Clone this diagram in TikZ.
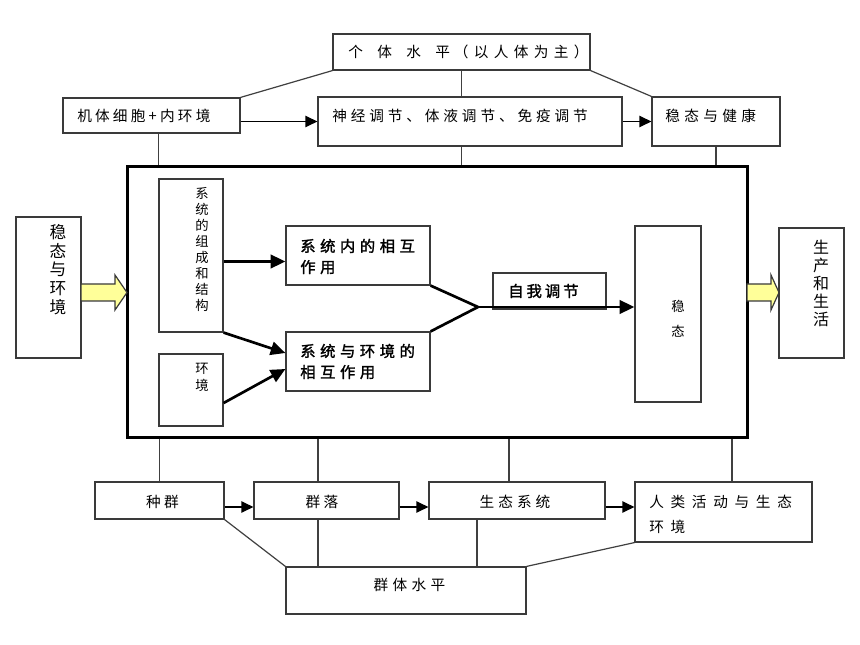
\documentclass[tikz,border=0pt]{standalone}
\usepackage{fontspec}
\newfontfamily\cjk{Noto Sans CJK SC}
\newfontfamily\cjkb[FakeBold=1.6]{Noto Sans CJK SC}
\usetikzlibrary{arrows.meta,calc,fit}
\newdimen\trk
\def\spc#1#2{\trk=#1\relax\spcB#2\relax}
\def\spcB#1{#1\spcC}
\def\spcC#1{\ifx#1\relax\else\kern\trk #1\expandafter\spcC\fi}
\definecolor{boxgray}{HTML}{3A3A3A}
\definecolor{linegray}{HTML}{404040}
\definecolor{yellowfill}{HTML}{FFFF99}
\begin{document}
\begin{tikzpicture}[x=0.75pt,y=-0.75pt,
  font=\cjk\fontsize{11pt}{13pt}\selectfont,
  box/.style={draw=boxgray,line width=0.9pt,inner sep=0pt},
  txt/.style={inner sep=0pt,anchor=west,align=left},
  ctxt/.style={inner sep=0pt,align=center},
  ln/.style={draw=linegray,line width=0.9pt},
  arr/.style={draw=black,line width=0.9pt,-{Triangle[length=9pt,width=8.5pt]}},
  tline/.style={draw=black,line width=2pt},
  tarr/.style={draw=black,line width=2pt,-{Triangle[length=11pt,width=10pt]}},
  yarrow/.style={draw=boxgray,line width=0.9pt,fill=yellowfill,line join=miter},
  boldtxt/.style={font=\cjkb\fontsize{11.5pt}{15.75pt}\selectfont},
  smallv/.style={font=\cjk\fontsize{10pt}{12pt}\selectfont},
  bigv/.style={font=\cjk\fontsize{12.5pt}{14pt}\selectfont}]
\fill[white] (0,0) rectangle (860,645);
\useasboundingbox (0,0) rectangle (860,645);

% top boxes
\node[box,fit={(333,34)(590,70)}] (ge) {};
\node[box,fit={(63,98)(240,133)}] (jt) {};
\node[box,fit={(318,97)(622,146)}] (sj) {};
\node[box,fit={(652,97)(780,146)}] (wj) {};
\node[txt] (tge) at (348,52) {\spc{10.75pt}{个体水平}\kern3pt\spc{4pt}{（以人体为主）}};
\node[txt] (tjt) at (77,116) {\spc{2.4pt}{机体细胞+内环境}};
\node[txt] (tsj) at (332,116) {\spc{2.9pt}{神经调节、体液调节、免疫调节}};
\node[txt] (twj) at (665,116) {\spc{3.25pt}{稳态与健康}};

% big box
\node[draw=black,line width=2.25pt,inner sep=0pt,fit={(127,167)(747,437)}] (big) {};

% side boxes
\node[box,fit={(16,217)(81,358)}] (wh) {};
\node[ctxt,bigv] (twh) at (58,269.5) {稳\\态\\与\\环\\境};
\node[box,fit={(779,228)(844,358)}] (sc) {};
\node[ctxt,font=\cjk\fontsize{12pt}{13.5pt}\selectfont] (tsc) at (821,283) {生\\产\\和\\生\\活};
\draw[yarrow] (81,284) -- (115,284) -- (115,275) -- (127,292.5) -- (115,310) -- (115,301) -- (81,301) -- cycle;
\draw[yarrow] (747,284) -- (771,284) -- (771,275) -- (779,292.5) -- (771,310) -- (771,301) -- (747,301) -- cycle;

% inner boxes
\node[box,fit={(159,179)(223,332)}] (zc) {};
\node[ctxt,smallv] (tzc) at (202,249) {系\\统\\的\\组\\成\\和\\结\\构};
\node[box,fit={(159,354)(223,426)}] (hj) {};
\node[ctxt,font=\cjk\fontsize{10pt}{12.75pt}\selectfont] (thj) at (202,377.5) {环\\境};
\node[box,fit={(286,226)(430,285)}] (sn) {};
\node[txt,boldtxt] (tsn) at (300,256.5) {\spc{3.4pt}{系统内的相互}\\\spc{3.4pt}{作用}};
\node[box,fit={(286,332)(430,391)}] (se) {};
\node[txt,boldtxt] (tse) at (300,361.5) {\spc{3.4pt}{系统与环境的}\\\spc{3.4pt}{相互作用}};
\node[box,fit={(493,273)(606,309)}] (zw) {};
\node[txt,boldtxt] (tzw) at (508,291) {\spc{2.25pt}{自我调节}};
\node[box,fit={(635,226)(701,402)}] (wt) {};
\node[ctxt,font=\cjk\fontsize{10pt}{18.75pt}\selectfont] (twt) at (678,318.5) {稳\\态};

% bottom boxes
\node[box,fit={(95,482)(224,519)}] (zq) {};
\node[ctxt] (tzq) at (162.5,501.5) {\spc{2.5pt}{种群}};
\node[box,fit={(254,482)(399,519)}] (ql) {};
\node[ctxt] (tql) at (322,501.5) {\spc{2.5pt}{群落}};
\node[box,fit={(429,482)(605,519)}] (st) {};
\node[ctxt] (tst) at (515,501.5) {\spc{3pt}{生态系统}};
\node[box,fit={(635,482)(812,542)}] (rl) {};
\node[txt,font=\cjk\fontsize{11pt}{18.75pt}\selectfont] (trl) at (649,514.5) {\spc{5pt}{人类活动与生态}\\\spc{5pt}{环境}};
\node[box,fit={(286,567)(526,614)}] (qt) {};
\node[ctxt] (tqt) at (409.5,585) {\spc{3.25pt}{群体水平}};

% top connectors
\draw[ln] (ge.south west) -- (jt.north east);
\draw[ln] (ge.south) -- (ge.south |- sj.north);
\draw[ln] (ge.south east) -- (wj.north west);
\draw[arr] (jt.east |- sj.west) -- (sj.west);
\draw[arr] (sj.east) -- (wj.west);
\draw[ln] (jt.south -| zc.west) -- (zc.west |- big.north);
\draw[ln] (ge.south |- sj.south) -- (ge.south |- big.north);
\draw[ln] (wj.south) -- (wj.south |- big.north);

% inner connectors
\draw[tarr] ($(zc.east)+(0,6)$) -- ($(sn.west)+(0,6)$);
\draw[tarr] (zc.south east) -- ($(se.west)+(0,-8.5)$);
\draw[tarr] ($(hj.east)+(0,13)$) -- ($(se.west)+(0,7.5)$);
\coordinate (jn) at (478,307);
\draw[tline,line join=miter] (sn.south east) -- (jn) -- (se.north east);
\draw[tarr] (jn) -- (wt.west |- jn);

% bottom connectors
\draw[ln] (zq.north |- big.south) -- (zq.north);
\coordinate (qlx) at ($(ql.north)+(-8.5,0)$);
\draw[ln] (qlx |- big.south) -- (qlx);
\draw[ln] (qlx |- ql.south) -- (qlx |- qt.north);
\coordinate (stx) at ($(st.north)+(-8,0)$);
\draw[ln] (stx |- big.south) -- (stx);
\coordinate (sty) at ($(st.south)+(-40,0)$);
\draw[ln] (sty) -- (sty |- qt.north);
\coordinate (rlx) at ($(rl.north)+(8.5,0)$);
\draw[ln] (rlx |- big.south) -- (rlx);
\draw[arr] ($(zq.east)+(0,6.5)$) -- ($(ql.west)+(0,6.5)$);
\draw[arr] ($(ql.east)+(0,6.5)$) -- ($(st.west)+(0,6.5)$);
\draw[arr] ($(st.east)+(0,6.5)$) -- ($(rl.west)+(0,-5)$);
\draw[ln] (zq.south east) -- (qt.north west);
\draw[ln] (rl.south west) -- (qt.north east);
\end{tikzpicture}
\end{document}
